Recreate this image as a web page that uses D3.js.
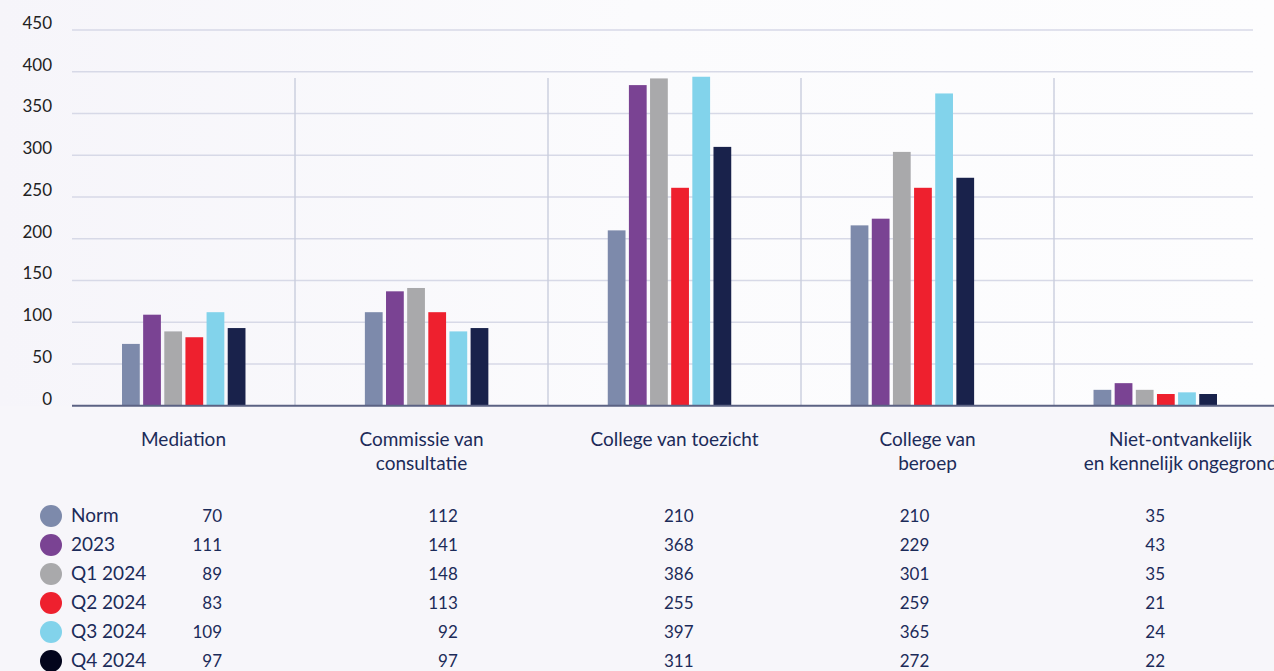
<!DOCTYPE html>
<html>
<head>
<meta charset="utf-8">
<script src="https://cdn.jsdelivr.net/npm/d3@7"></script>
<style>
  html, body { margin: 0; padding: 0; background: #f7f6fa; overflow: hidden; }
  svg { display: block; }
</style>
</head>
<body>
<svg id="chart" width="1274" height="671"></svg>
<script>
// ---- data ----
const categories = ["Mediation", "Commissie van consultatie", "College van toezicht", "College van beroep", "Niet-ontvankelijk en kennelijk ongegrond"];
const categoryLines = [["Mediation"], ["Commissie van", "consultatie"], ["College van toezicht"], ["College van", "beroep"], ["Niet-ontvankelijk", "en kennelijk ongegrond"]];
const seriesNames = ["Norm", "2023", "Q1 2024", "Q2 2024", "Q3 2024", "Q4 2024"];
// bar heights as drawn in the picture (per series, per category)
const norm  = [74, 112, 210, 216, 19];
const y2023 = [109, 137, 384, 224, 27];
const q1    = [89, 141, 392, 304, 19];
const q2    = [82, 112, 261, 261, 14];
const q3    = [112, 89, 394, 374, 16];
const q4    = [93, 93, 310, 273, 14];
const barValues = [norm, y2023, q1, q2, q3, q4];
// values printed in the table below the chart
const tableNorm  = ["70", "112", "210", "210", "35"];
const table2023  = ["111", "141", "368", "229", "43"];
const tableQ1    = ["89", "148", "386", "301", "35"];
const tableQ2    = ["83", "113", "255", "259", "21"];
const tableQ3    = ["109", "92", "397", "365", "24"];
const tableQ4    = ["97", "97", "311", "272", "22"];
const tableValues = [tableNorm, table2023, tableQ1, tableQ2, tableQ3, tableQ4];
const yTicks = [0, 50, 100, 150, 200, 250, 300, 350, 400, 450];

// ---- styles ----
const barColors = ["#7d8aab", "#7a4393", "#a9a9ab", "#ee202e", "#82d3eb", "#19224b"];
const dotColors = ["#7d8aab", "#7a4393", "#a9a9ab", "#ee202e", "#82d3eb", "#03051c"];
const navy = "#1c2b59";

const svg = d3.select("#chart");
const defs = svg.append("defs");
const grad = defs.append("linearGradient").attr("id", "bg").attr("x1", "0").attr("x2", "1").attr("y1", "0").attr("y2", "0");
grad.append("stop").attr("offset", "0").attr("stop-color", "#f6f5fa");
grad.append("stop").attr("offset", "0.5").attr("stop-color", "#fbfbfd");
grad.append("stop").attr("offset", "1").attr("stop-color", "#fdfdfe");

svg.append("rect").attr("width", 1274).attr("height", 671).attr("fill", "#f7f6fa");
svg.append("rect").attr("x", 0).attr("y", 0).attr("width", 1274).attr("height", 406).attr("fill", "url(#bg)");

// scales
const y = d3.scaleLinear().domain([0, 450]).range([405.7, 30]);
const x0 = d3.scaleBand().domain(categories).range([122, 1217]).paddingInner(0.4916).paddingOuter(0);
const x1 = d3.scaleBand().domain(seriesNames).range([0, x0.bandwidth()]).paddingInner(0.16);
const xs = d3.scaleBand().domain(categories).range([42, 1307]); // separator bands
const tableX = d3.scalePoint().domain(categories).range([222, 1165]);

// gridlines
svg.append("g")
  .selectAll("line").data(yTicks.filter(d => d > 0)).join("line")
  .attr("x1", 72).attr("x2", 1253)
  .attr("y1", d => y(d)).attr("y2", d => y(d))
  .attr("stroke", "#d7d9e7").attr("stroke-width", 1.6);

// separators
svg.append("g")
  .selectAll("line").data(categories.slice(1)).join("line")
  .attr("x1", d => xs(d)).attr("x2", d => xs(d))
  .attr("y1", 78).attr("y2", 405)
  .attr("stroke", "#c9cddd").attr("stroke-width", 1.4);

// y tick labels
svg.append("g")
  .selectAll("text").data(yTicks).join("text")
  .attr("x", 52).attr("y", d => y(d) - 1)
  .attr("text-anchor", "end")
  .attr("font-family", "Lato, 'Open Sans', sans-serif")
  .attr("font-size", 17)
  .attr("fill", "#222")
  .text(d => d);

// bars
const groups = svg.append("g").selectAll("g").data(categories).join("g")
  .attr("transform", d => `translate(${x0(d)},0)`);
groups.selectAll("rect")
  .data((c, ci) => seriesNames.map((s, si) => ({ s, v: barValues[si][ci], color: barColors[si] })))
  .join("rect")
  .attr("x", d => x1(d.s))
  .attr("width", x1.bandwidth())
  .attr("y", d => y(d.v))
  .attr("height", d => y(0) - y(d.v))
  .attr("fill", d => d.color);

// baseline
svg.append("line").attr("x1", 72).attr("x2", 1274).attr("y1", y(0)).attr("y2", y(0))
  .attr("stroke", "#5b6283").attr("stroke-width", 2);

// category labels
const labelCenter = c => { const a = Math.max(xs(c), 72); return (a + xs(c) + xs.bandwidth()) / 2; };
svg.append("g").selectAll("text").data(categories).join("text")
  .attr("x", d => labelCenter(d))
  .attr("y", 446)
  .attr("text-anchor", "middle")
  .attr("font-family", "Lato, sans-serif")
  .attr("font-size", 19)
  .attr("fill", navy)
  .each(function(d, i) {
    const t = d3.select(this);
    categoryLines[i].forEach((line, li) => {
      t.append("tspan").attr("x", labelCenter(d)).attr("dy", li === 0 ? 0 : 24).text(line);
    });
  });

// legend / table
const rowY = d3.scalePoint().domain(seriesNames).range([516, 661]);
const legend = svg.append("g");
legend.selectAll("circle").data(seriesNames).join("circle")
  .attr("cx", 51).attr("cy", d => rowY(d)).attr("r", 11)
  .attr("fill", (d, i) => dotColors[i]);
legend.selectAll("text.lab").data(seriesNames).join("text").attr("class", "lab")
  .attr("x", 71).attr("y", d => rowY(d) + 6)
  .attr("font-family", "Lato, sans-serif")
  .attr("font-size", 19)
  .attr("fill", navy)
  .text(d => d);

seriesNames.forEach((s, si) => {
  svg.append("g").selectAll("text").data(categories).join("text")
    .attr("x", d => tableX(d))
    .attr("y", rowY(s) + 6)
    .attr("text-anchor", "end")
    .attr("font-family", "Lato, sans-serif")
    .attr("font-size", 17)
    .attr("fill", navy)
    .text((d, ci) => tableValues[si][ci]);
});
</script>
</body>
</html>
